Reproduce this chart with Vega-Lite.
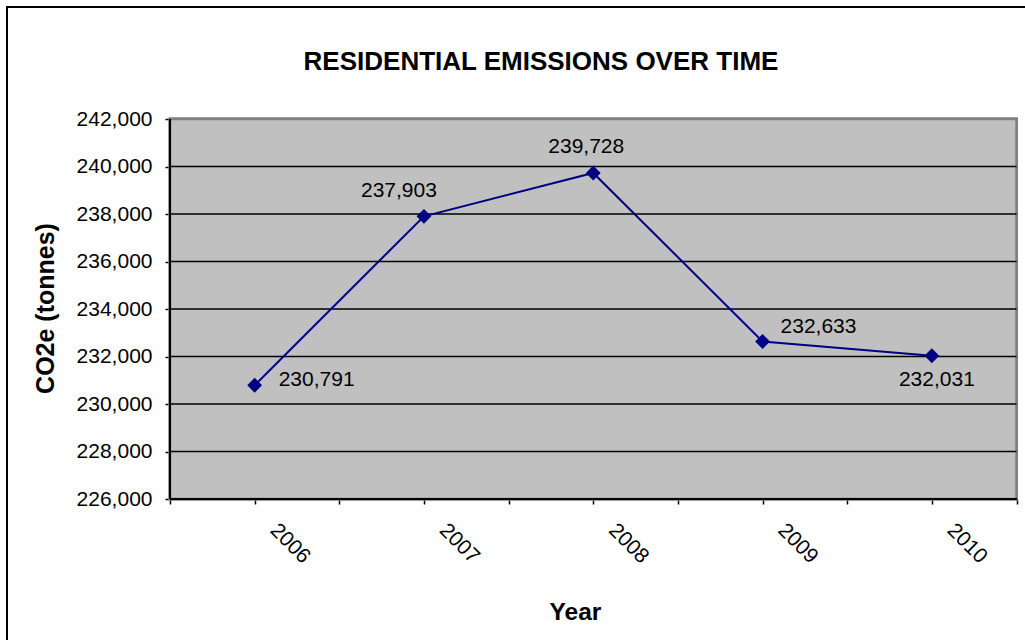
{
  "$schema": "https://vega.github.io/schema/vega-lite/v6.json",
  "autosize": {"type": "none"},
  "width": 1020,
  "height": 635,
  "padding": {"left": 7, "top": 7, "right": -2, "bottom": -2},
  "background": "white",
  "config": {
    "font": "Liberation Sans",
    "view": {"stroke": "black", "strokeWidth": 2, "fill": "white"}
  },
  "title": {
    "text": "RESIDENTIAL EMISSIONS OVER TIME",
    "font": "Liberation Sans",
    "fontSize": 26,
    "fontWeight": "bold",
    "color": "black",
    "anchor": "middle",
    "frame": "group",
    "baseline": "alphabetic",
    "offset": 0,
    "dx": 24,
    "dy": 89
  },
  "datasets": {
    "emissions": [
      {"year": 2006, "co2e": 230791},
      {"year": 2007, "co2e": 237903},
      {"year": 2008, "co2e": 239728},
      {"year": 2009, "co2e": 232633},
      {"year": 2010, "co2e": 232031}
    ],
    "grid": [
      {"v": 228000}, {"v": 230000}, {"v": 232000}, {"v": 234000},
      {"v": 236000}, {"v": 238000}, {"v": 240000}
    ]
  },
  "data": {"name": "emissions"},
  "layer": [
    {
      "mark": {"type": "rect", "fill": "#C0C0C0", "stroke": "#808080", "strokeWidth": 2.5},
      "encoding": {
        "x": {
          "datum": 2005.5,
          "type": "quantitative",
          "scale": {"domain": [2004.53721, 2010.56202], "zero": false, "nice": false},
          "axis": {
            "values": [2005.5, 2006, 2006.5, 2007, 2007.5, 2008, 2008.5, 2009, 2009.5, 2010, 2010.5],
            "labelExpr": "datum.value % 1 == 0 ? format(datum.value, 'd') : ''",
            "offset": -143,
            "domain": false,
            "grid": false,
            "ticks": true,
            "tickSize": 5,
            "tickColor": "black",
            "tickWidth": 1.5,
            "labelAngle": 45,
            "labelAlign": "left",
            "labelBaseline": "top",
            "labelOffset": 26,
            "labelPadding": 15,
            "labelFont": "Liberation Sans",
            "labelFontSize": 21,
            "labelColor": "black",
            "labelOverlap": false,
            "labelBound": false,
            "labelFlush": false,
            "title": "Year",
            "titleFont": "Liberation Sans",
            "titleFontSize": 24.5,
            "titleFontWeight": "bold",
            "titleColor": "black",
            "titleAlign": "center",
            "titleBaseline": "alphabetic",
            "titleX": 568,
            "titleY": 120
          }
        },
        "x2": {"datum": 2010.5},
        "y": {
          "datum": 226000,
          "type": "quantitative",
          "scale": {"domain": [219978.95, 246715.79], "zero": false, "nice": false},
          "axis": {
            "values": [226000, 228000, 230000, 232000, 234000, 236000, 238000, 240000, 242000],
            "format": ",d",
            "offset": -163,
            "domain": false,
            "grid": false,
            "tickSize": 5,
            "tickColor": "black",
            "tickWidth": 1.5,
            "labelPadding": 13,
            "labelFont": "Liberation Sans",
            "labelFontSize": 21,
            "labelColor": "black",
            "labelBound": false,
            "labelFlush": false,
            "labelOverlap": false,
            "title": "CO2e (tonnes)",
            "titleFont": "Liberation Sans",
            "titleFontSize": 25,
            "titleFontWeight": "bold",
            "titleColor": "black",
            "titleAngle": 270,
            "titleAlign": "center",
            "titleBaseline": "middle",
            "titleX": -125,
            "titleY": 301
          }
        },
        "y2": {"datum": 242000}
      }
    },
    {
      "data": {"name": "grid"},
      "mark": {"type": "rule", "color": "black", "strokeWidth": 1.5},
      "encoding": {
        "y": {"field": "v", "type": "quantitative"},
        "x": {"datum": 2005.5},
        "x2": {"datum": 2010.5}
      }
    },
    {
      "mark": {"type": "rule", "color": "black", "strokeWidth": 2},
      "encoding": {
        "x": {"datum": 2005.5},
        "y": {"datum": 226000},
        "y2": {"datum": 242000}
      }
    },
    {
      "mark": {"type": "rule", "color": "black", "strokeWidth": 2},
      "encoding": {
        "y": {"datum": 226000},
        "x": {"datum": 2005.5},
        "x2": {"datum": 2010.5}
      }
    },
    {
      "mark": {"type": "line", "color": "#000080", "strokeWidth": 2},
      "encoding": {
        "x": {"field": "year", "type": "quantitative"},
        "y": {"field": "co2e", "type": "quantitative"}
      }
    },
    {
      "mark": {"type": "point", "shape": "diamond", "filled": true, "color": "#000080", "size": 220, "opacity": 1},
      "encoding": {
        "x": {"field": "year", "type": "quantitative"},
        "y": {"field": "co2e", "type": "quantitative"}
      }
    },
    {
      "transform": [{"filter": "datum.year == 2006"}],
      "mark": {"type": "text", "align": "left", "baseline": "middle", "dx": 24, "dy": -5, "fontSize": 21, "font": "Liberation Sans", "color": "black"},
      "encoding": {
        "x": {"field": "year", "type": "quantitative"},
        "y": {"field": "co2e", "type": "quantitative"},
        "text": {"field": "co2e", "type": "quantitative", "format": ",d"}
      }
    },
    {
      "transform": [{"filter": "datum.year == 2007"}],
      "mark": {"type": "text", "align": "center", "baseline": "middle", "dx": -25, "dy": -25, "fontSize": 21, "font": "Liberation Sans", "color": "black"},
      "encoding": {
        "x": {"field": "year", "type": "quantitative"},
        "y": {"field": "co2e", "type": "quantitative"},
        "text": {"field": "co2e", "type": "quantitative", "format": ",d"}
      }
    },
    {
      "transform": [{"filter": "datum.year == 2008"}],
      "mark": {"type": "text", "align": "center", "baseline": "middle", "dx": -7, "dy": -26, "fontSize": 21, "font": "Liberation Sans", "color": "black"},
      "encoding": {
        "x": {"field": "year", "type": "quantitative"},
        "y": {"field": "co2e", "type": "quantitative"},
        "text": {"field": "co2e", "type": "quantitative", "format": ",d"}
      }
    },
    {
      "transform": [{"filter": "datum.year == 2009"}],
      "mark": {"type": "text", "align": "left", "baseline": "middle", "dx": 18, "dy": -14, "fontSize": 21, "font": "Liberation Sans", "color": "black"},
      "encoding": {
        "x": {"field": "year", "type": "quantitative"},
        "y": {"field": "co2e", "type": "quantitative"},
        "text": {"field": "co2e", "type": "quantitative", "format": ",d"}
      }
    },
    {
      "transform": [{"filter": "datum.year == 2010"}],
      "mark": {"type": "text", "align": "center", "baseline": "middle", "dx": 5, "dy": 24, "fontSize": 21, "font": "Liberation Sans", "color": "black"},
      "encoding": {
        "x": {"field": "year", "type": "quantitative"},
        "y": {"field": "co2e", "type": "quantitative"},
        "text": {"field": "co2e", "type": "quantitative", "format": ",d"}
      }
    }
  ]
}
